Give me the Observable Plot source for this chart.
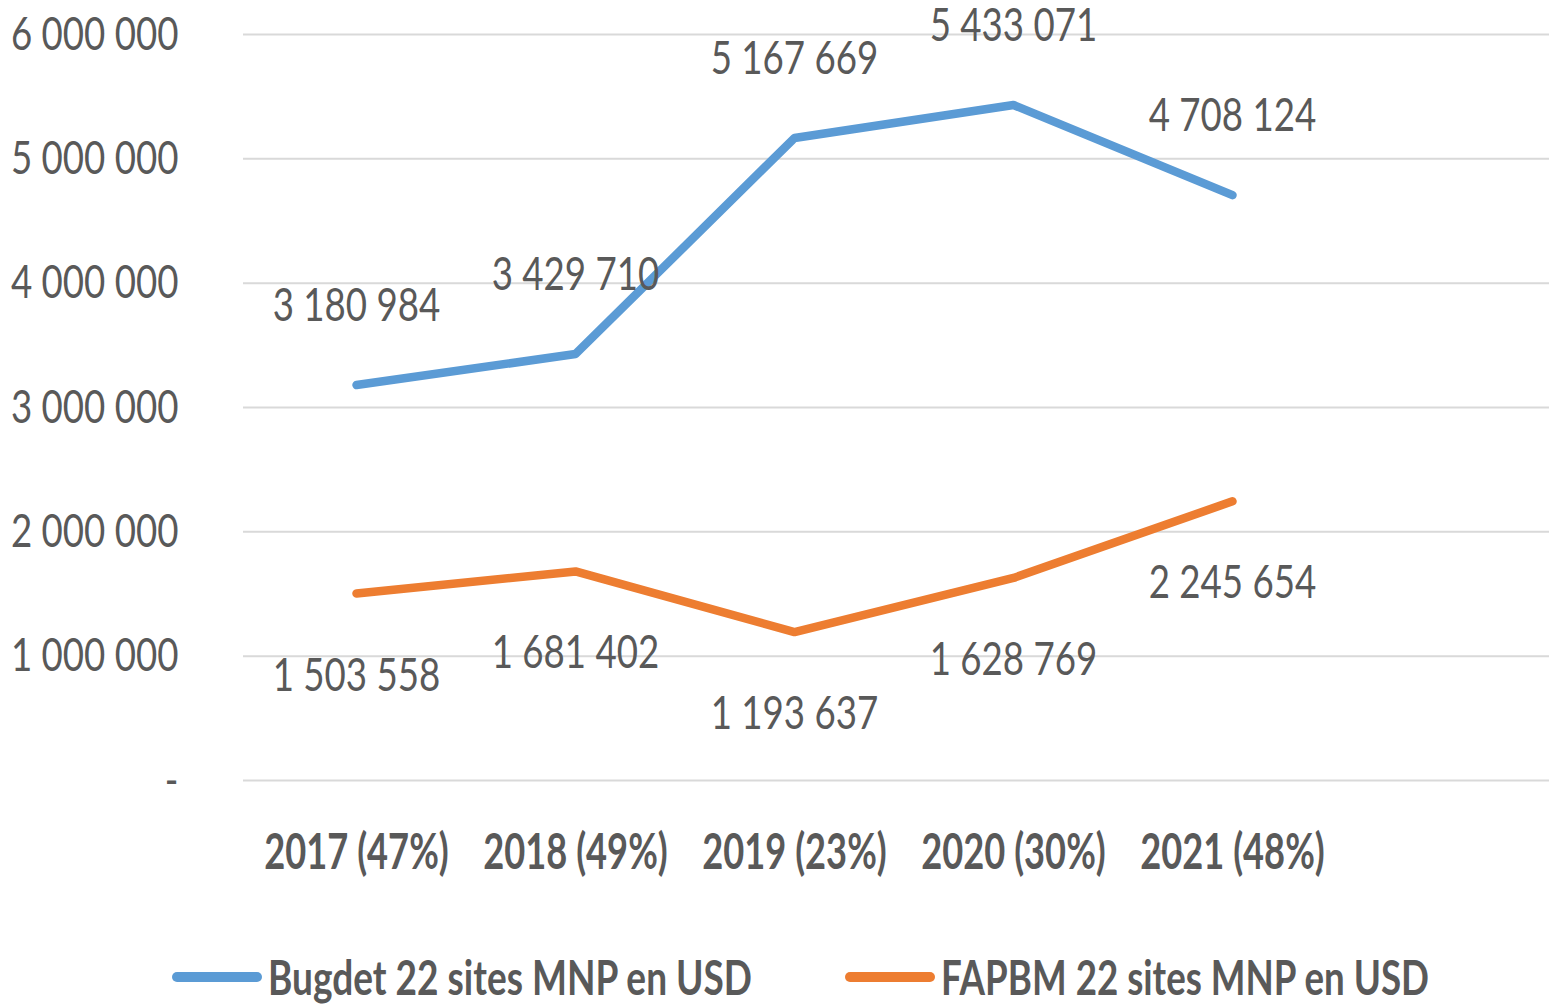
<!DOCTYPE html>
<html><head><meta charset="utf-8">
<script src="https://cdn.jsdelivr.net/npm/d3@7"></script>
<script src="https://cdn.jsdelivr.net/npm/@observablehq/plot@0.6"></script>
<style>
body{margin:0;background:#fff;font-family:Lato,"Open Sans",sans-serif;}
#legend{position:relative;height:64px;color:#595959;font-weight:bold;font-size:48px;white-space:nowrap;}
.item{position:absolute;top:5px;height:64px;display:flex;align-items:center;}
.sw{display:inline-block;width:90px;height:10px;border-radius:5px;margin-right:6px;}
.lab{display:inline-block;transform-origin:0 50%;line-height:1;}
</style></head><body><div id="chart"></div><div id="legend"></div>
<script>
const years = ["2017 (47%)", "2018 (49%)", "2019 (23%)", "2020 (30%)", "2021 (48%)"];
const budget = [3180984, 3429710, 5167669, 5433071, 4708124];
const fapbm = [1503558, 1681402, 1193637, 1628769, 2245654];
const seriesNames = ["Bugdet 22 sites MNP en USD", "FAPBM 22 sites MNP en USD"];
const seriesColors = ["#5b9bd5", "#ed7d31"];
const yTicks = [0, 1000000, 2000000, 3000000, 4000000, 5000000, 6000000];

const budgetRows = years.map((y, i) => ({year: y, value: budget[i], series: seriesNames[0]}));
const fapbmRows = years.map((y, i) => ({year: y, value: fapbm[i], series: seriesNames[1]}));
const rows = budgetRows.concat(fapbmRows);
const fmt = v => v === 0 ? "-" : d3.format(",")(v).replace(/,/g, " ");
const FONT = 'Lato,"Open Sans",sans-serif';

const chart = Plot.plot({
  width: 1549, height: 940,
  marginLeft: 243, marginRight: 0, marginTop: 34, marginBottom: 160,
  style: {fontFamily: FONT, color: "#595959", background: "white", fontSize: "47px"},
  x: {type: "point", domain: years, range: [355, 1233], padding: 0},
  y: {domain: [0, 6000000]},
  color: {domain: seriesNames, range: seriesColors},
  marks: [
    Plot.ruleY(yTicks, {stroke: "#d9d9d9", strokeWidth: 2}),
    Plot.axisY({ticks: yTicks, tickFormat: fmt, tickSize: 0, tickPadding: 65, fontSize: 47, label: null, fill: "#595959", className: "cond"}),
    Plot.axisX({tickSize: 0, tickPadding: 53, fontSize: 50, fontWeight: "bold", label: null, fill: "#595959", className: "condb"}),
    Plot.line(rows, {x: "year", y: "value", z: "series", stroke: "series", strokeWidth: 8.5, strokeLinecap: "round", strokeLinejoin: "round"}),
    Plot.text(budgetRows, {x: "year", y: "value", text: d => fmt(d.value), dy: -79, fontSize: 47, fill: "#595959", className: "cond"}),
    Plot.text(fapbmRows, {x: "year", y: "value", text: d => fmt(d.value), dy: 82, fontSize: 47, fill: "#595959", className: "cond"})
  ]
});
document.getElementById("chart").appendChild(chart);

// condense glyphs horizontally (reference uses a narrow font)
function condense(sel, k) {
  chart.querySelectorAll(sel).forEach(t => {
    const w = t.getComputedTextLength();
    if (w > 0) { t.setAttribute("textLength", w * k); t.setAttribute("lengthAdjust", "spacingAndGlyphs"); }
  });
}
condense("g.cond text, .cond text, text.cond", 0.78);
condense("g.condb text, .condb text, text.condb", 0.725);

const legend = document.getElementById("legend");
const legendLeft = [172, 845];
const legendTextWidth = [484, 488];
seriesNames.forEach((name, i) => {
  const item = document.createElement("div");
  item.className = "item";
  item.style.left = legendLeft[i] + "px";
  const sw = document.createElement("span");
  sw.className = "sw";
  sw.style.background = seriesColors[i];
  const label = document.createElement("span");
  label.className = "lab";
  label.textContent = name;
  item.appendChild(sw);
  item.appendChild(label);
  legend.appendChild(item);
  const w = label.getBoundingClientRect().width;
  label.style.transform = `scaleX(${legendTextWidth[i] / w})`;
});
</script>
</body></html>
